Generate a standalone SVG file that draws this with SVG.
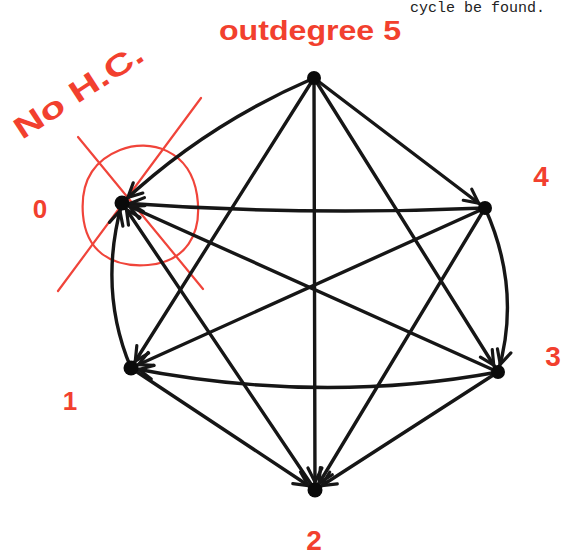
<svg xmlns="http://www.w3.org/2000/svg" width="563" height="556" viewBox="0 0 563 556">
<defs>
<style>
.e{fill:none;stroke:#161616;stroke-width:3.4;stroke-linecap:round;stroke-linejoin:round;marker-end:url(#ah)}
.n{fill:#0a0a0a}
.r{fill:#f2402e;font-family:"Liberation Sans",sans-serif;font-weight:bold}
.rs{fill:none;stroke:#f0443a;stroke-width:2.2;stroke-linecap:round}
</style>
<marker id="ah" markerUnits="userSpaceOnUse" markerWidth="40" markerHeight="40" viewBox="-30 -15 40 30" refX="0" refY="0" orient="auto">
<path d="M-22,-7 L-8,0 L-22,7" fill="none" stroke="#161616" stroke-width="3.2" stroke-linecap="round" stroke-linejoin="round"/>
</marker>
</defs>
<rect width="563" height="556" fill="#fff"/>
<text x="545" y="12" font-family="Liberation Mono,monospace" font-size="15" fill="#222" text-anchor="end">cycle be found.</text>
<g id="annotations">
<text class="r" x="310" y="40" font-size="27" text-anchor="middle" textLength="182" lengthAdjust="spacingAndGlyphs">outdegree 5</text>
<text class="r" x="0" y="0" font-size="30" transform="translate(22,140) rotate(-33)" textLength="148" lengthAdjust="spacingAndGlyphs">No H.C.</text>
<path class="rs" d="M120,150 C150,138 190,150 197,195 C203,235 185,262 148,265 C110,268 86,250 83,215 C80,180 95,160 120,150 Z"/>
<line class="rs" x1="78" y1="137" x2="203" y2="289"/>
<line class="rs" x1="201" y1="98" x2="58" y2="291"/>
</g>
<g id="connectors">
<path class="e" d="M314,78 Q205,125 122,203"/>
<path class="e" d="M314,78 L485,208"/>
<path class="e" d="M314,78 L131,368"/>
<path class="e" d="M314,78 L315,490"/>
<path class="e" d="M314,78 L498,372"/>
<path class="e" d="M485,208 Q300,216 122,203"/>
<path class="e" d="M131,368 Q98,290 122,203"/>
<path class="e" d="M315,490 L122,203"/>
<path class="e" d="M498,372 L122,203"/>
<path class="e" d="M485,208 L131,368"/>
<path class="e" d="M485,208 Q522,290 498,372"/>
<path class="e" d="M485,208 L315,490"/>
<path class="e" d="M498,372 Q320,405 131,368"/>
<path class="e" d="M131,368 L315,490"/>
<path class="e" d="M498,372 L315,490"/>
</g>
<g id="nodeT"><circle class="n" cx="314" cy="78" r="7"/></g>
<g id="node0"><circle class="n" cx="122" cy="203" r="7.5"/><text class="r" x="40" y="218" font-size="26" text-anchor="middle">0</text></g>
<g id="node4"><circle class="n" cx="485" cy="208" r="7"/><text class="r" x="541" y="186" font-size="28" text-anchor="middle">4</text></g>
<g id="node1"><circle class="n" cx="131" cy="368" r="7.5"/><text class="r" x="70" y="410" font-size="26" text-anchor="middle">1</text></g>
<g id="node3"><circle class="n" cx="498" cy="372" r="7"/><text class="r" x="553" y="366" font-size="28" text-anchor="middle">3</text></g>
<g id="node2"><circle class="n" cx="315" cy="490" r="7.5"/><text class="r" x="314" y="550" font-size="28" text-anchor="middle">2</text></g>
</svg>
